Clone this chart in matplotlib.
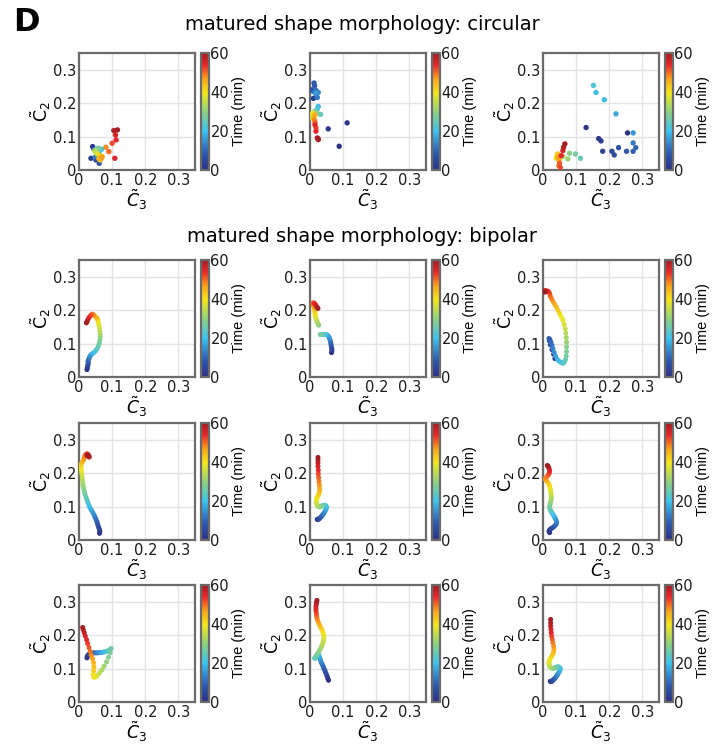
import numpy as np
import matplotlib
matplotlib.use('Agg')
import matplotlib.pyplot as plt
from matplotlib.colors import LinearSegmentedColormap

# ---------------- data ----------------
# circular panels: explicit (x, y, time)
c1_x = [0.041, 0.036, 0.051, 0.061, 0.045, 0.058, 0.050, 0.062, 0.068, 0.064, 0.055, 0.060, 0.052, 0.047, 0.050,
        0.056, 0.066, 0.064, 0.060, 0.070, 0.068, 0.081, 0.090, 0.100, 0.112, 0.108, 0.110, 0.105, 0.116]
c1_y = [0.070, 0.035, 0.030, 0.020, 0.062, 0.050, 0.040, 0.058, 0.062, 0.060, 0.064, 0.065, 0.060, 0.057, 0.052,
        0.048, 0.042, 0.030, 0.034, 0.040, 0.036, 0.068, 0.055, 0.080, 0.090, 0.035, 0.105, 0.118, 0.120]
c1_t = [1, 3, 5, 7, 9, 11, 13, 16, 19, 21, 24, 27, 30, 33, 35,
        38, 41, 43, 44, 46, 47, 48, 50, 52, 54, 55, 56, 58, 60]

c2_x = [0.088, 0.112, 0.055, 0.010, 0.018, 0.005, 0.012, 0.014, 0.010, 0.018, 0.022, 0.025, 0.016, 0.025, 0.022,
        0.032, 0.015, 0.020, 0.005, 0.000, 0.010, 0.008, 0.012, 0.010, 0.015, 0.013, 0.015, 0.018, 0.018, 0.015,
        0.022, 0.025, 0.024]
c2_y = [0.071, 0.141, 0.123, 0.214, 0.218, 0.240, 0.260, 0.252, 0.235, 0.238, 0.217, 0.232, 0.230, 0.190, 0.182,
        0.166, 0.176, 0.172, 0.158, 0.155, 0.165, 0.170, 0.160, 0.155, 0.165, 0.150, 0.143, 0.126, 0.116, 0.135,
        0.096, 0.091, 0.094]
c2_t = [0, 1, 2, 3, 4, 6, 7, 8, 9, 11, 12, 14, 16, 19, 21,
        25, 27, 29, 33, 35, 37, 39, 42, 44, 46, 48, 50, 52, 54, 55,
        57, 59, 60]

c3_x = [0.255, 0.130, 0.168, 0.175, 0.180, 0.208, 0.215, 0.228, 0.252, 0.272, 0.280, 0.272, 0.272, 0.220, 0.185,
        0.160, 0.152, 0.113, 0.098, 0.080, 0.075, 0.060, 0.050, 0.042, 0.040, 0.044, 0.048, 0.045, 0.048, 0.050,
        0.052, 0.055, 0.060, 0.062, 0.066]
c3_y = [0.111, 0.127, 0.094, 0.087, 0.056, 0.056, 0.045, 0.067, 0.056, 0.056, 0.067, 0.081, 0.111, 0.168, 0.210,
        0.232, 0.253, 0.035, 0.048, 0.050, 0.033, 0.040, 0.036, 0.043, 0.035, 0.048, 0.030, 0.038, 0.013, 0.020,
        0.008, 0.043, 0.058, 0.068, 0.078]
c3_t = [0, 1, 2, 3, 4, 5, 6, 7, 8, 9, 10, 12, 15, 17, 19,
        20, 22, 25, 27, 29, 31, 33, 36, 38, 40, 43, 45, 47, 49, 51,
        52, 54, 56, 58, 60]

# bipolar panels: trajectories sampled at regular frames over 0-60 min
b1_x = [0.024, 0.025, 0.026, 0.027, 0.028, 0.027, 0.029, 0.031, 0.033, 0.036, 0.040, 0.045, 0.050, 0.054, 0.058,
        0.061, 0.063, 0.064, 0.064, 0.063, 0.062, 0.060, 0.058, 0.057, 0.055, 0.052, 0.048, 0.044, 0.040, 0.036,
        0.032, 0.029, 0.026, 0.024, 0.022]
b1_y = [0.022, 0.027, 0.032, 0.037, 0.042, 0.047, 0.052, 0.057, 0.062, 0.066, 0.070, 0.073, 0.078, 0.084, 0.092,
        0.101, 0.110, 0.119, 0.128, 0.137, 0.146, 0.155, 0.163, 0.170, 0.175, 0.178, 0.182, 0.186, 0.188, 0.185,
        0.180, 0.176, 0.170, 0.165, 0.162]

b2_x = [0.065, 0.066, 0.066, 0.065, 0.064, 0.063, 0.062, 0.060, 0.058, 0.055, 0.051, 0.047, 0.043, 0.039, 0.035,
        0.031, 0.026, 0.024, 0.021, 0.019, 0.017, 0.016, 0.015, 0.015, 0.014, 0.012, 0.010, 0.009, 0.010, 0.013,
        0.016, 0.019, 0.022, 0.024]
b2_y = [0.073, 0.078, 0.083, 0.088, 0.094, 0.100, 0.106, 0.112, 0.118, 0.123, 0.126, 0.127, 0.127, 0.127, 0.127,
        0.127, 0.155, 0.160, 0.166, 0.172, 0.178, 0.184, 0.190, 0.196, 0.202, 0.208, 0.214, 0.219, 0.222, 0.221,
        0.217, 0.212, 0.208, 0.205]

b3_x = [0.036, 0.032, 0.027, 0.022, 0.019, 0.018, 0.021, 0.024, 0.027, 0.030, 0.034, 0.038, 0.043, 0.049, 0.055,
        0.060, 0.064, 0.068, 0.070, 0.071, 0.071, 0.071, 0.070, 0.069, 0.067, 0.064, 0.060, 0.055, 0.050, 0.045,
        0.040, 0.035, 0.030, 0.026, 0.022, 0.020, 0.017, 0.013, 0.009, 0.005, 0.003, 0.006]
b3_y = [0.055, 0.068, 0.082, 0.096, 0.108, 0.115, 0.112, 0.104, 0.095, 0.085, 0.073, 0.062, 0.053, 0.047, 0.043,
        0.041, 0.044, 0.052, 0.063, 0.076, 0.090, 0.104, 0.118, 0.131, 0.144, 0.157, 0.170, 0.180, 0.190, 0.200,
        0.210, 0.218, 0.226, 0.234, 0.242, 0.250, 0.255, 0.257, 0.258, 0.258, 0.256, 0.254]

b4_x = [0.062, 0.063, 0.062, 0.060, 0.058, 0.056, 0.054, 0.051, 0.048, 0.045, 0.041, 0.037, 0.033, 0.030, 0.027,
        0.024, 0.021, 0.018, 0.016, 0.014, 0.012, 0.011, 0.010, 0.009, 0.008, 0.007, 0.006, 0.006, 0.008, 0.011,
        0.014, 0.016, 0.018, 0.021, 0.024, 0.027, 0.030, 0.031, 0.028, 0.025]
b4_y = [0.020, 0.025, 0.030, 0.036, 0.042, 0.048, 0.055, 0.062, 0.069, 0.076, 0.083, 0.090, 0.097, 0.104, 0.112,
        0.120, 0.128, 0.137, 0.146, 0.155, 0.164, 0.173, 0.182, 0.191, 0.200, 0.209, 0.217, 0.224, 0.230, 0.235,
        0.240, 0.246, 0.252, 0.256, 0.258, 0.256, 0.252, 0.248, 0.250, 0.253]

b5_x = [0.022, 0.023, 0.025, 0.027, 0.029, 0.032, 0.035, 0.038, 0.041, 0.044, 0.047, 0.049, 0.050, 0.048, 0.045,
        0.042, 0.038, 0.034, 0.030, 0.026, 0.023, 0.021, 0.019, 0.019, 0.020, 0.021, 0.024, 0.027, 0.029, 0.029,
        0.028, 0.027, 0.026, 0.025, 0.025, 0.024, 0.024, 0.024, 0.024]
b5_y = [0.062, 0.061, 0.062, 0.063, 0.065, 0.068, 0.071, 0.075, 0.079, 0.084, 0.089, 0.094, 0.099, 0.102, 0.104,
        0.104, 0.103, 0.101, 0.099, 0.100, 0.102, 0.106, 0.111, 0.116, 0.121, 0.126, 0.132, 0.139, 0.146, 0.155,
        0.165, 0.176, 0.187, 0.198, 0.209, 0.220, 0.230, 0.239, 0.247]

b6_x = [0.020, 0.018, 0.020, 0.024, 0.028, 0.033, 0.037, 0.040, 0.041, 0.040, 0.038, 0.035, 0.032, 0.029, 0.026,
        0.023, 0.021, 0.020, 0.021, 0.022, 0.024, 0.025, 0.025, 0.024, 0.023, 0.022, 0.020, 0.018, 0.014, 0.010,
        0.007, 0.008, 0.012, 0.016, 0.019, 0.020, 0.019, 0.017, 0.015, 0.013]
b6_y = [0.022, 0.026, 0.030, 0.034, 0.036, 0.040, 0.044, 0.048, 0.053, 0.058, 0.063, 0.068, 0.073, 0.078, 0.083,
        0.088, 0.093, 0.099, 0.105, 0.111, 0.118, 0.125, 0.132, 0.139, 0.146, 0.153, 0.160, 0.167, 0.173, 0.178,
        0.182, 0.186, 0.190, 0.195, 0.200, 0.206, 0.212, 0.217, 0.221, 0.223]

b7_x = [0.024, 0.025, 0.027, 0.030, 0.034, 0.038, 0.042, 0.047, 0.052, 0.057, 0.062, 0.067, 0.072, 0.077, 0.082,
        0.087, 0.092, 0.097, 0.094, 0.089, 0.083, 0.076, 0.069, 0.062, 0.055, 0.050, 0.045, 0.043, 0.044, 0.045,
        0.044, 0.041, 0.037, 0.034, 0.030, 0.026, 0.023, 0.019, 0.016, 0.013, 0.011]
b7_y = [0.132, 0.136, 0.140, 0.143, 0.146, 0.147, 0.147, 0.147, 0.147, 0.147, 0.148, 0.148, 0.149, 0.150, 0.151,
        0.153, 0.156, 0.160, 0.148, 0.134, 0.120, 0.107, 0.096, 0.087, 0.079, 0.075, 0.074, 0.082, 0.093, 0.105,
        0.117, 0.129, 0.140, 0.151, 0.163, 0.175, 0.186, 0.197, 0.207, 0.216, 0.223]

b8_x = [0.056, 0.054, 0.052, 0.050, 0.047, 0.045, 0.042, 0.040, 0.037, 0.034, 0.032, 0.030, 0.028, 0.026, 0.022,
        0.019, 0.016, 0.014, 0.017, 0.021, 0.025, 0.029, 0.033, 0.036, 0.039, 0.041, 0.042, 0.041, 0.039, 0.036,
        0.032, 0.029, 0.026, 0.023, 0.021, 0.020, 0.019, 0.018, 0.018, 0.018, 0.019, 0.020, 0.021]
b8_y = [0.065, 0.070, 0.076, 0.082, 0.088, 0.094, 0.100, 0.106, 0.112, 0.118, 0.124, 0.130, 0.136, 0.141, 0.138,
        0.134, 0.131, 0.131, 0.136, 0.142, 0.148, 0.155, 0.162, 0.169, 0.177, 0.185, 0.193, 0.201, 0.209, 0.216,
        0.223, 0.230, 0.237, 0.244, 0.251, 0.258, 0.265, 0.272, 0.279, 0.286, 0.293, 0.299, 0.304]

b9_x = [0.022, 0.024, 0.026, 0.028, 0.030, 0.033, 0.036, 0.039, 0.042, 0.045, 0.048, 0.051, 0.052, 0.050, 0.047,
        0.043, 0.039, 0.035, 0.031, 0.027, 0.023, 0.020, 0.018, 0.018, 0.019, 0.021, 0.025, 0.029, 0.032, 0.033,
        0.032, 0.030, 0.028, 0.026, 0.025, 0.024, 0.023, 0.023, 0.023]
b9_y = [0.062, 0.061, 0.062, 0.063, 0.065, 0.068, 0.071, 0.075, 0.079, 0.084, 0.089, 0.094, 0.100, 0.103, 0.105,
        0.105, 0.104, 0.102, 0.100, 0.101, 0.103, 0.107, 0.112, 0.117, 0.122, 0.128, 0.135, 0.142, 0.150, 0.158,
        0.167, 0.177, 0.187, 0.197, 0.207, 0.217, 0.227, 0.237, 0.247]

circular = [(c1_x, c1_y, c1_t), (c2_x, c2_y, c2_t), (c3_x, c3_y, c3_t)]
bipolar = [(b1_x, b1_y), (b2_x, b2_y), (b3_x, b3_y),
           (b4_x, b4_y), (b5_x, b5_y), (b6_x, b6_y),
           (b7_x, b7_y), (b8_x, b8_y), (b9_x, b9_y)]

ticks = [0, 0.1, 0.2, 0.3]
tick_labels = ['0', '0.1', '0.2', '0.3']
cbar_ticks = [0, 20, 40, 60]
title_circ = 'matured shape morphology: circular'
title_bip = 'matured shape morphology: bipolar'

# softened jet-like colormap as rendered in the reference
cmap = LinearSegmentedColormap.from_list('softjet', [
    (0.00, '#2b2f84'),
    (0.15, '#2f5db0'),
    (0.33, '#3ec1ee'),
    (0.50, '#8fd27e'),
    (0.66, '#f3e61c'),
    (0.78, '#f8a31d'),
    (0.90, '#e8262a'),
    (1.00, '#a31e22'),
])

# ---------------- figure ----------------
W, H = 723, 748
fig = plt.figure(figsize=(W / 100, H / 100), dpi=100)
plt.rcParams['font.family'] = 'DejaVu Sans'
plt.rcParams['mathtext.fontset'] = 'dejavusans'

col_left = [79, 310, 543]
row_top = [53, 260, 423, 585]
ax_w, ax_h = 116, 117
cb_gap, cb_w = 6, 8
spine_c = '#6b6b6b'


def make_panel(r, c, x, y, t, size):
    l = col_left[c]
    tp = row_top[r]
    ax = fig.add_axes([l / W, (H - tp - ax_h) / H, ax_w / W, ax_h / H])
    sc = ax.scatter(x, y, c=t, cmap=cmap, vmin=0, vmax=60, s=size, linewidths=0, zorder=3)
    ax.set_xlim(0, 0.35)
    ax.set_ylim(0, 0.35)
    ax.set_xticks(ticks)
    ax.set_xticklabels(tick_labels)
    ax.set_yticks(ticks)
    ax.set_yticklabels(tick_labels)
    ax.tick_params(length=0, labelsize=10.5, pad=2, colors='#1a1a1a')
    ax.grid(True, color='#e3e3e3', lw=1.0, zorder=0)
    ax.set_axisbelow(True)
    for s in ax.spines.values():
        s.set_color(spine_c)
        s.set_linewidth(1.6)
    ax.set_xlabel(r'$\tilde{C}_3$', fontsize=12.5, labelpad=0)
    ax.set_ylabel(r'$\tilde{\mathrm{C}}_2$', fontsize=12.5, labelpad=0)
    cax = fig.add_axes([(l + ax_w + cb_gap) / W, (H - tp - ax_h) / H, cb_w / W, ax_h / H])
    cb = fig.colorbar(sc, cax=cax, ticks=cbar_ticks)
    cb.outline.set_edgecolor(spine_c)
    cb.outline.set_linewidth(1.6)
    cax.tick_params(length=0, labelsize=10.5, pad=1, colors='#1a1a1a')
    cb.set_label('Time (min)', fontsize=10.5, family='Liberation Sans', labelpad=2)
    return ax


for c, (x, y, t) in enumerate(circular):
    make_panel(0, c, x, y, t, 15)

for i, (x, y) in enumerate(bipolar):
    r = 1 + i // 3
    c = i % 3
    t = np.linspace(0, 60, len(x))
    make_panel(r, c, x, y, t, 13)

fig.text(362 / W, 1 - 25 / H, title_circ, ha='center', va='center', fontsize=14)
fig.text(362 / W, 1 - 236 / H, title_bip, ha='center', va='center', fontsize=14)
fig.text(13 / W, 1 - 7 / H, 'D', ha='left', va='top', fontsize=23, fontweight='bold')

fig.savefig('out.png', dpi=100)
